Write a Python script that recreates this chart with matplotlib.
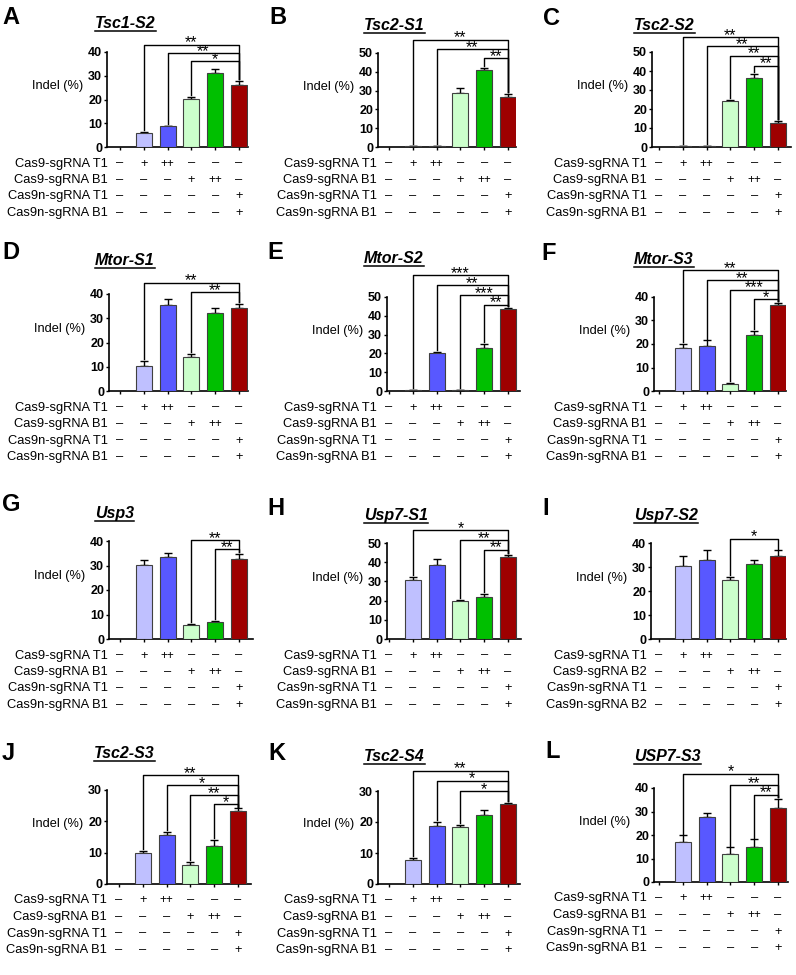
import matplotlib
matplotlib.use("Agg")
import matplotlib.pyplot as plt
from matplotlib import font_manager
from matplotlib.transforms import blended_transform_factory
from matplotlib.lines import Line2D
import numpy as np

plt.rcParams['font.family'] = ['Liberation Sans', 'DejaVu Sans']
installed = {f.name for f in font_manager.fontManager.ttflist}
narrow = 'Liberation Sans Narrow' if 'Liberation Sans Narrow' in installed else 'Liberation Sans'

# ---- data ----
letters = list("ABCDEFGHIJKL")
titles = ["Tsc1-S2", "Tsc2-S1", "Tsc2-S2", "Mtor-S1", "Mtor-S2", "Mtor-S3",
          "Usp3", "Usp7-S1", "Usp7-S2", "Tsc2-S3", "Tsc2-S4", "USP7-S3"]
ymax = [40, 50, 50, 40, 50, 40, 40, 50, 40, 30, 30, 40]

indel_A = [0, 5.8, 8.8, 20.1, 31.2, 26.0]
err_A = [0, 0.5, 0.2, 0.8, 1.6, 1.8]
indel_B = [0, 0.5, 0.5, 28.5, 41.0, 26.7]
err_B = [0, 0, 0, 2.8, 1.2, 1.5]
indel_C = [0, 0.5, 0.5, 24.0, 36.5, 12.4]
err_C = [0, 0, 0, 1.0, 1.8, 1.1]
indel_D = [0, 10.4, 35.3, 13.9, 32.2, 34.4]
err_D = [0, 1.8, 2.7, 1.3, 1.9, 1.3]
indel_E = [0, 0.4, 20.0, 0.4, 23.1, 43.6]
err_E = [0, 0, 0.8, 0, 1.7, 0.6]
indel_F = [0, 18.1, 19.2, 3.0, 23.9, 36.4]
err_F = [0, 2.1, 2.3, 0.3, 1.6, 1.0]
indel_G = [0, 30.2, 33.3, 5.9, 7.0, 32.8]
err_G = [0, 2.2, 1.9, 0.2, 0.4, 2.0]
indel_H = [0, 30.9, 38.8, 19.8, 22.1, 42.6]
err_H = [0, 1.4, 3.1, 0.7, 1.2, 1.1]
indel_I = [0, 30.6, 32.8, 24.4, 31.3, 34.4]
err_I = [0, 4.1, 4.1, 1.3, 1.5, 2.5]
indel_J = [0, 10.0, 15.6, 6.2, 12.0, 23.3]
err_J = [0, 0.5, 0.9, 0.9, 2.0, 0.8]
indel_K = [0, 7.9, 18.6, 18.3, 22.1, 25.8]
err_K = [0, 0.6, 1.5, 0.8, 1.8, 0.3]
indel_L = [0, 17.2, 27.8, 11.8, 14.8, 31.5]
err_L = [0, 2.6, 1.5, 2.9, 3.3, 4.0]

indel = [indel_A, indel_B, indel_C, indel_D, indel_E, indel_F,
         indel_G, indel_H, indel_I, indel_J, indel_K, indel_L]
errs = [err_A, err_B, err_C, err_D, err_E, err_F,
        err_G, err_H, err_I, err_J, err_K, err_L]

# significance brackets: (left group, label, height), all against group 5
sig = [
    [(1, "**", 43.1), (2, "**", 39.6), (3, "*", 36.1)],
    [(1, "**", 57.1), (2, "**", 52.1), (4, "**", 47.3)],
    [(1, "**", 57.9), (2, "**", 53.0), (3, "**", 48.1), (4, "**", 42.8)],
    [(1, "**", 44.7), (3, "**", 40.7)],
    [(1, "***", 61.5), (2, "**", 56.2), (3, "***", 50.9), (4, "**", 45.9)],
    [(1, "**", 51.4), (2, "**", 47.1), (3, "***", 43.1), (4, "*", 39.1)],
    [(3, "**", 40.4), (4, "**", 36.6)],
    [(1, "*", 56.7), (3, "**", 51.4), (4, "**", 46.5)],
    [(3, "*", 41.8)],
    [(1, "**", 34.7), (2, "*", 31.6), (3, "**", 28.4), (4, "*", 25.4)],
    [(1, "**", 36.5), (2, "*", 33.3), (3, "*", 30.0)],
    [(1, "*", 46.1), (3, "**", 41.1), (4, "**", 37.1)],
]

row_labels = ["Cas9-sgRNA T1", "Cas9-sgRNA B1", "Cas9n-sgRNA T1", "Cas9n-sgRNA B1"]
row_labels_I = ["Cas9-sgRNA T1", "Cas9-sgRNA B2", "Cas9n-sgRNA T1", "Cas9n-sgRNA B2"]
treatment = [["–", "+", "++", "–", "–", "–"],
             ["–", "–", "–", "+", "++", "–"],
             ["–", "–", "–", "–", "–", "+"],
             ["–", "–", "–", "–", "–", "+"]]

bar_colors = ["#ffffff", "#bfc0ff", "#5858ff", "#ccffcc", "#00bf00", "#9e0000"]

# ---- layout in pixels: axis left, first group x, axis right, baseline, top,
#      title baseline, letter x, letter top ----
layout = [
    (107, 120, 248, 147, 52, 28, 2, 6),
    (378, 389, 516, 147, 53, 30, 269, 6),
    (652, 659, 791, 147, 52, 30, 543, 7),
    (109, 120, 248, 391, 294, 265, 2, 241),
    (387, 389, 520, 391, 297, 263, 267, 241),
    (654, 659, 786, 391, 297, 264, 541, 242),
    (109, 120, 253, 639, 541, 518, 2, 493),
    (387, 389, 521, 639, 543, 520, 267, 497),
    (651, 659, 786, 639, 543, 520, 542, 497),
    (107, 119, 251, 884, 790, 758, 2, 742),
    (378, 389, 520, 884, 791, 761, 268, 742),
    (654, 659, 788, 882, 788, 761, 545, 740),
]
row_off = [16.5, 33, 49.5, 66]

W, H = 796, 975
sp = 23.8


def fx(px):
    return px / W


def fy(py):
    return 1 - py / H


fig = plt.figure(figsize=(W / 100, H / 100), dpi=100)
title_texts = []

for k in range(12):
    al, fc, ar, base, top, tb, lx, ly = layout[k]
    ax = fig.add_axes([fx(al), fy(base), (ar - al) / W, (base - top) / H])
    x = np.arange(6)
    vals = np.array(indel[k])
    err = np.array(errs[k])
    ax.bar(x, vals, width=0.68, color=bar_colors, edgecolor="#404040",
           linewidth=0.8, zorder=3)
    ax.errorbar(x[1:], vals[1:], yerr=[np.zeros(5), err[1:]], fmt="none",
                ecolor="black", elinewidth=1, capsize=3, capthick=1, zorder=2)
    ax.set_xlim((al - fc) / sp, 5 + (ar - fc - 5 * sp) / sp)
    ax.set_ylim(0, ymax[k])
    yt = np.arange(0, ymax[k] + 1, 10)
    ax.set_yticks(yt, labels=[str(v) for v in yt], fontweight="bold", fontsize=9)
    ax.set_xticks(x, labels=[])
    ax.tick_params(length=2.5, width=1, pad=1, direction="out")
    for s in ["top", "right"]:
        ax.spines[s].set_visible(False)
    for s in ["left", "bottom"]:
        ax.spines[s].set_linewidth(1.2)

    # brackets
    gap = 0.02 * ymax[k]
    for (i, lab, lev) in sig[k]:
        yi = vals[i] + err[i] + gap
        y5 = vals[5] + err[5] + gap
        ax.plot([i, i, 5, 5], [yi, lev, lev, y5], color="black", lw=1,
                clip_on=False, zorder=4)
        ax.annotate(lab, xy=((i + 5) / 2, lev), xytext=(0, -2),
                    textcoords="offset points", ha="center", va="baseline",
                    fontsize=11.5, annotation_clip=False)

    # labels
    fig.text(fx(al - 24), fy(top + 0.36 * (base - top)), "Indel (%)",
             ha="right", va="center", fontsize=9.2)
    t = fig.text(fx(fc - 25), fy(tb), titles[k], ha="left", va="baseline",
                 fontsize=11.5, fontweight="bold", fontstyle="italic")
    title_texts.append((t, tb))
    fig.text(fx(lx), fy(ly), letters[k], ha="left", va="top", fontsize=17,
             fontweight="bold")

    # treatment table
    trans = blended_transform_factory(ax.transData, fig.transFigure)
    labels = row_labels_I if k == 8 else row_labels
    for r in range(4):
        yr = fy(base + row_off[r])
        fig.text(fx(fc - 12), yr, labels[r], ha="right", va="center", fontsize=9.3)
        for c in range(6):
            s = treatment[r][c]
            if s == "++":
                ax.text(c, yr, s, transform=trans, ha="center", va="center",
                        fontsize=8.6, family=[narrow, "DejaVu Sans"])
            else:
                ax.text(c, yr, s, transform=trans, ha="center", va="center",
                        fontsize=9.3)

# underline the gene titles
fig.canvas.draw()
renderer = fig.canvas.get_renderer()
for t, tb in title_texts:
    bb = t.get_window_extent(renderer)
    yl = fy(tb + 3)
    fig.add_artist(Line2D([bb.x0 / W, bb.x1 / W], [yl, yl],
                          transform=fig.transFigure, color="black", lw=1.1))

fig.savefig("out.png", dpi=100)
